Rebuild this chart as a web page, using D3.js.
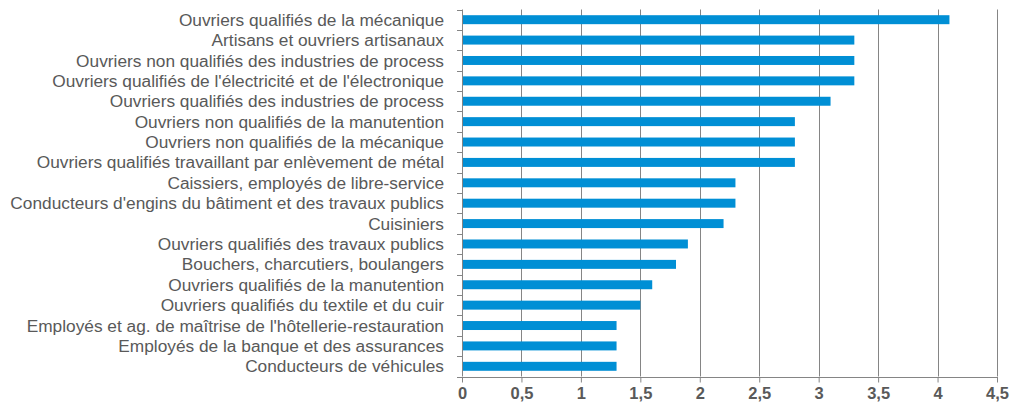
<!DOCTYPE html>
<html>
<head>
<meta charset="utf-8">
<script src="https://cdn.jsdelivr.net/npm/d3@7"></script>
<style>
body { margin: 0; background: #fff; }
svg text { font-family: "Liberation Sans", Arial, sans-serif; }
</style>
</head>
<body>
<div id="chart"></div>
<script>
var categories = [
	"Ouvriers qualifiés de la mécanique",
	"Artisans et ouvriers artisanaux",
	"Ouvriers non qualifiés des industries de process",
	"Ouvriers qualifiés de l'électricité et de l'électronique",
	"Ouvriers qualifiés des industries de process",
	"Ouvriers non qualifiés de la manutention",
	"Ouvriers non qualifiés de la mécanique",
	"Ouvriers qualifiés travaillant par enlèvement de métal",
	"Caissiers, employés de libre-service",
	"Conducteurs d'engins du bâtiment et des travaux publics",
	"Cuisiniers",
	"Ouvriers qualifiés des travaux publics",
	"Bouchers, charcutiers, boulangers",
	"Ouvriers qualifiés de la manutention",
	"Ouvriers qualifiés du textile et du cuir",
	"Employés et ag. de maîtrise de l'hôtellerie-restauration",
	"Employés de la banque et des assurances",
	"Conducteurs de véhicules"
];
var values = [4.1, 3.3, 3.3, 3.3, 3.1, 2.8, 2.8, 2.8, 2.3, 2.3, 2.2, 1.9, 1.8, 1.6, 1.5, 1.3, 1.3, 1.3];
var xTicks = [0, 0.5, 1, 1.5, 2, 2.5, 3, 3.5, 4, 4.5];

var width = 1011, height = 403;
var margin = {top: 9.5, right: 14, bottom: 26.5, left: 462};

var svg = d3.select("#chart").append("svg")
	.attr("width", width).attr("height", height);

var x = d3.scaleLinear().domain([0, 4.5]).range([margin.left, width - margin.right]);
var y = d3.scaleBand().domain(categories).range([margin.top, height - margin.bottom]).paddingInner(0.56).paddingOuter(0.28);
var band = d3.scaleBand().domain(categories).range([margin.top, height - margin.bottom]);

// vertical gridlines
svg.append("g").selectAll("line")
	.data(xTicks.slice(1)).enter()
	.append("line")
	.attr("x1", function(d){ return Math.round(x(d)) + 0.5; })
	.attr("x2", function(d){ return Math.round(x(d)) + 0.5; })
	.attr("y1", margin.top)
	.attr("y2", height - margin.bottom)
	.attr("stroke", "#858585")
	.attr("stroke-width", 1);

// bars
svg.append("g").selectAll("rect")
	.data(values).enter()
	.append("rect")
	.attr("x", x(0) + 1)
	.attr("y", function(d, i){ return y(categories[i]); })
	.attr("width", function(d){ return x(d) - x(0) - 1; })
	.attr("height", y.bandwidth())
	.attr("fill", "#008fd5");

// left axis
var yAxis = svg.append("g");
yAxis.append("line")
	.attr("x1", margin.left + 0.5).attr("x2", margin.left + 0.5)
	.attr("y1", margin.top).attr("y2", height - margin.bottom)
	.attr("stroke", "#858585");
var yBounds = categories.map(function(c){ return band(c); }).concat([height - margin.bottom]);
yAxis.selectAll(".ytick")
	.data(yBounds).enter()
	.append("line")
	.attr("class", "ytick")
	.attr("x1", margin.left - 5).attr("x2", margin.left + 0.5)
	.attr("y1", function(d){ return Math.round(d) + 0.5; })
	.attr("y2", function(d){ return Math.round(d) + 0.5; })
	.attr("stroke", "#858585");
yAxis.selectAll("text")
	.data(categories).enter()
	.append("text")
	.attr("x", margin.left - 18)
	.attr("y", function(d){ return band(d) + band.bandwidth() / 2; })
	.attr("dy", "0.35em")
	.attr("text-anchor", "end")
	.attr("font-size", "17.3px")
	.attr("fill", "#595959")
	.text(function(d){ return d; });

// bottom axis
var fmt = function(d){ return String(d).replace(".", ","); };
var xAxis = svg.append("g")
	.attr("transform", "translate(0," + (Math.round(height - margin.bottom) + 0.5) + ")")
	.call(d3.axisBottom(x).tickValues(xTicks).tickFormat(fmt).tickSize(5).tickPadding(5));
xAxis.select(".domain").attr("stroke", "#858585").attr("d", "M" + margin.left + ",0H" + (width - margin.right + 1));
xAxis.selectAll(".tick line").attr("stroke", "#858585");
xAxis.selectAll(".tick text")
	.attr("font-size", "16.5px")
	.attr("font-weight", "bold")
	.attr("font-family", "Liberation Sans, Arial, sans-serif")
	.attr("fill", "#595959");
</script>
</body>
</html>
